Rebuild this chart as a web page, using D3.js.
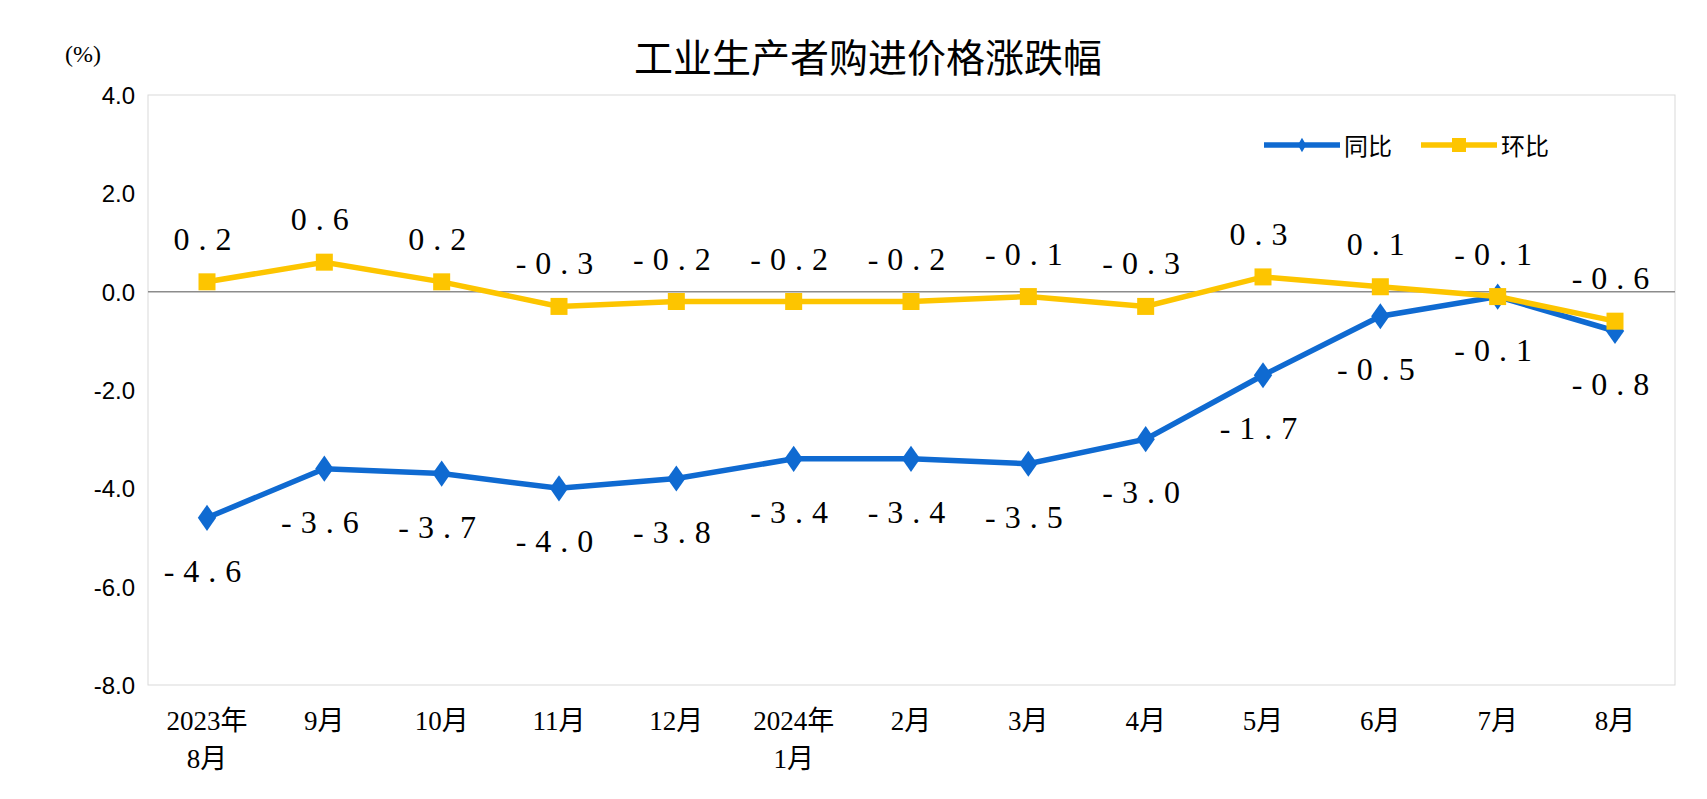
<!DOCTYPE html>
<html><head><meta charset="utf-8">
<script src="https://cdn.jsdelivr.net/npm/d3@7"></script>
<style>body{margin:0;background:#fff}</style>
</head><body>
<script>
// chart data
var categories = ["2023年\n8月","9月","10月","11月","12月","2024年\n1月","2月","3月","4月","5月","6月","7月","8月"];
var yoy = [-4.6,-3.6,-3.7,-4.0,-3.8,-3.4,-3.4,-3.5,-3.0,-1.7,-0.5,-0.1,-0.8];
var mom = [0.2,0.6,0.2,-0.3,-0.2,-0.2,-0.2,-0.1,-0.3,0.3,0.1,-0.1,-0.6];
var yTicks = [4,2,0,-2,-4,-6,-8];

var W = 1707, H = 799;
var margin = {left:148, right:32, top:95, bottom:114};
var svg = d3.select("body").append("svg").attr("width", W).attr("height", H);
var x = d3.scalePoint().domain(d3.range(categories.length)).range([207, 1615]);
var y = d3.scaleLinear().domain([-8, 4]).range([H - margin.bottom, margin.top]);
var serif = "'Liberation Serif','Noto Sans CJK SC',serif";
var cjk = "'Noto Sans CJK SC',sans-serif";

svg.append("rect").attr("x", margin.left).attr("y", margin.top)
    .attr("width", W - margin.left - margin.right).attr("height", H - margin.top - margin.bottom)
    .attr("fill", "none").attr("stroke", "#d9d9d9");

// y axis
svg.selectAll(".yt").data(yTicks).enter().append("text")
    .attr("x", 135).attr("y", function (d) { return y(d) + 9; })
    .attr("text-anchor", "end").attr("font-family", "'Liberation Sans',sans-serif")
    .attr("font-size", 24).text(function (d) { return d.toFixed(1); });
svg.append("line").attr("x1", margin.left).attr("x2", W - margin.right)
    .attr("y1", y(0)).attr("y2", y(0)).attr("stroke", "#8c8c8c").attr("stroke-width", 1.5);
svg.append("text").attr("x", 65).attr("y", 62).attr("font-family", serif)
    .attr("font-size", 24).text("(%)");

// x labels
categories.forEach(function (c, i) {
    var t = svg.append("text").attr("x", x(i)).attr("y", 730).attr("text-anchor", "middle")
        .attr("font-family", serif).attr("font-size", 27);
    c.split("\n").forEach(function (s, j) {
        t.append("tspan").attr("x", x(i)).attr("dy", j ? 38 : 0).text(s);
    });
});

svg.append("text").attr("x", 868).attr("y", 72).attr("text-anchor", "middle")
    .attr("font-family", cjk).attr("font-size", 39).text("工业生产者购进价格涨跌幅");

var line = d3.line().x(function (d, i) { return x(i); }).y(function (d) { return y(d); });
var fmt = function (v) { return (v < 0 ? "-" : "") + Math.abs(v).toFixed(1); };

// 同比
svg.append("path").datum(yoy).attr("d", line).attr("fill", "none")
    .attr("stroke", "#0f6ad1").attr("stroke-width", 5.5);
svg.selectAll(".dy").data(yoy).enter().append("path")
    .attr("d", d3.symbol(d3.symbolDiamond, 220))
    .attr("transform", function (d, i) { return "translate(" + x(i) + "," + y(d) + ") scale(1.15,0.95)"; })
    .attr("fill", "#0f6ad1");
// 环比
svg.append("path").datum(mom).attr("d", line).attr("fill", "none")
    .attr("stroke", "#fdc500").attr("stroke-width", 5.5);
svg.selectAll(".dm").data(mom).enter().append("rect")
    .attr("x", function (d, i) { return x(i) - 8.5; }).attr("y", function (d) { return y(d) - 8.5; })
    .attr("width", 17).attr("height", 17).attr("fill", "#fdc500");

var lbl = function (data, dy) {
    svg.selectAll(null).data(data).enter().append("text")
        .attr("x", function (d, i) { return x(i); })
        .attr("y", function (d, i) { return y(d) + dy; })
        .attr("text-anchor", "middle").attr("font-family", serif).attr("font-size", 32)
        .attr("letter-spacing", 9).text(fmt);
};
lbl(mom, -32);
lbl(yoy, 64);

// legend
var leg = [["同比", "#0f6ad1", 1264], ["环比", "#fdc500", 1421]];
leg.forEach(function (l, i) {
    svg.append("line").attr("x1", l[2]).attr("x2", l[2] + 76).attr("y1", 145).attr("y2", 145)
        .attr("stroke", l[1]).attr("stroke-width", 5.5);
    if (i === 0) svg.append("path").attr("d", d3.symbol(d3.symbolDiamond, 60))
        .attr("transform", "translate(" + (l[2] + 38) + ",145)").attr("fill", l[1]);
    else svg.append("rect").attr("x", l[2] + 31).attr("y", 138).attr("width", 14).attr("height", 14).attr("fill", l[1]);
    svg.append("text").attr("x", l[2] + 80).attr("y", 155).attr("font-family", cjk)
        .attr("font-size", 24).text(l[0]);
});
</script>
</body></html>
